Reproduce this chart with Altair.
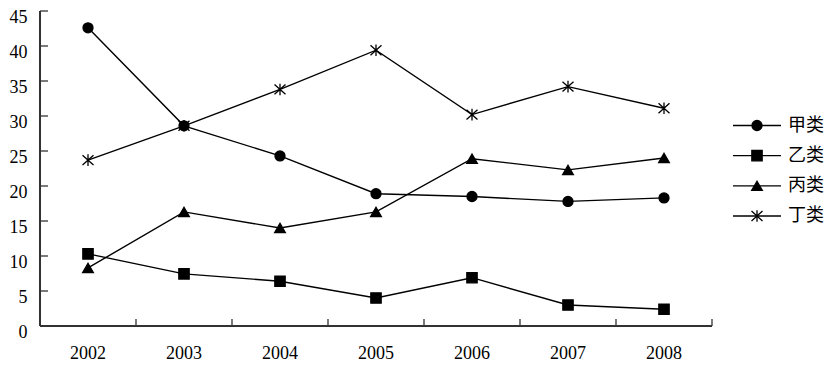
import altair as alt
import pandas as pd

years = ["2002", "2003", "2004", "2005", "2006", "2007", "2008"]
series_names = ["甲类", "乙类", "丙类", "丁类"]
jia = [42.6, 28.6, 24.3, 18.9, 18.5, 17.8, 18.3]
yi = [10.3, 7.45, 6.4, 4.0, 6.9, 3.0, 2.4]
bing = [8.3, 16.3, 14.0, 16.3, 23.9, 22.3, 24.0]
ding = [23.7, 28.6, 33.8, 39.4, 30.2, 34.2, 31.1]
y_ticks = [0, 5, 10, 15, 20, 25, 30, 35, 40, 45]

rows = []
for name, vals in zip(series_names, [jia, yi, bing, ding]):
    for yr, v in zip(years, vals):
        rows.append({"year": yr, "series": name, "value": v})
df = pd.DataFrame(rows)
ytick_df = pd.DataFrame({"v": y_ticks})
xtick_df = pd.DataFrame({"year": years})
legend_df = pd.DataFrame({"series": series_names})

W, H = 672, 315
AX = "#333333"
SERIF = "Liberation Serif"

asterisk = "M-1,-0.9L1,0.9M-1,0.9L1,-0.9M0,-1.05L0,1.05"
shape_scale = alt.Scale(domain=series_names, range=["circle", "square", "triangle-up", asterisk])

xscale = alt.Scale(type="band", domain=years, paddingInner=0, paddingOuter=0)
yscale = alt.Scale(domain=[0, 45], nice=False, zero=True)

y_axis = alt.Axis(
    title=None, values=y_ticks, ticks=False, tickSize=0, grid=False, domain=False,
    labelFont=SERIF, labelFontSize=18, labelColor="black",
    labelPadding=13, labelBaseline="middle", labelOffset=6,
    labelFlush=False, orient="left",
)

lines = alt.Chart(df).mark_line(color="black", strokeWidth=1.4).encode(
    x=alt.X("year:N", scale=xscale, sort=years, axis=None),
    y=alt.Y("value:Q", scale=yscale, axis=y_axis),
    detail="series:N",
)

points = alt.Chart(df).mark_point(
    fill="black", stroke="black", strokeWidth=1.3, opacity=1, filled=False
).encode(
    x=alt.X("year:N", scale=xscale, sort=years, axis=None),
    y=alt.Y("value:Q", scale=yscale, axis=None),
    shape=alt.Shape("series:N", scale=shape_scale, legend=None),
    size=alt.Size(
        "series:N",
        scale=alt.Scale(domain=series_names, range=[100, 121, 140, 361]),
        legend=None,
    ),
)

# axis lines, inward ticks and year labels
yaxis_line = alt.Chart(ytick_df).mark_rule(color=AX, strokeWidth=1.5).encode(
    x=alt.value(0), y=alt.value(0), y2=alt.value(H)
)
xaxis_line = alt.Chart(ytick_df).mark_rule(color=AX, strokeWidth=1.5).encode(
    y=alt.value(H), x=alt.value(0), x2=alt.value(W)
)
yticks = alt.Chart(ytick_df).mark_rule(color=AX, strokeWidth=1.3).encode(
    y=alt.Y("v:Q", scale=yscale, axis=None),
    x=alt.value(0),
    x2=alt.value(8),
)
xticks = alt.Chart(xtick_df).mark_rule(color=AX, strokeWidth=1.3).encode(
    x=alt.X("year:N", scale=xscale, sort=years, bandPosition=1, axis=None),
    y=alt.value(H),
    y2=alt.value(H - 7),
)
xlabels = alt.Chart(xtick_df).mark_text(
    font=SERIF, fontSize=18, color="black", align="center", baseline="middle"
).encode(
    x=alt.X("year:N", scale=xscale, sort=years, axis=None),
    y=alt.value(H + 28),
    text="year:N",
)

# legend drawn as its own small layers, rows placed by a point scale
leg_y = alt.Y(
    "series:N",
    sort=series_names,
    scale=alt.Scale(type="point", domain=series_names, range=[114.5, 205], padding=0),
    axis=None,
)
leg_line = alt.Chart(legend_df).mark_rule(color="black", strokeWidth=1.4).encode(
    y=leg_y, x=alt.value(693), x2=alt.value(741)
)
leg_pts = alt.Chart(legend_df).mark_point(
    fill="black", stroke="black", strokeWidth=1.3, opacity=1, filled=False
).encode(
    y=leg_y,
    x=alt.value(717),
    shape=alt.Shape("series:N", scale=shape_scale, legend=None),
    size=alt.Size(
        "series:N",
        scale=alt.Scale(domain=series_names, range=[100, 121, 140, 180]),
        legend=None,
    ),
)
leg_txt = alt.Chart(legend_df).mark_text(
    align="left", baseline="middle", font="Noto Sans CJK SC", fontSize=18, color="black"
).encode(y=leg_y, x=alt.value(748), text="series:N")

chart = alt.layer(
    lines, points, yaxis_line, xaxis_line, yticks, xticks, xlabels,
    leg_line, leg_pts, leg_txt
).resolve_scale(
    y="independent", shape="independent", size="independent"
).resolve_axis(
    y="independent"
).properties(
    width=W,
    height=H,
    autosize="none",
    background="white",
    padding={"left": 32, "top": 3, "right": 114, "bottom": 38},
).configure_view(stroke=None)

chart.save("out.html", embed_options={"renderer": "svg", "actions": False})
